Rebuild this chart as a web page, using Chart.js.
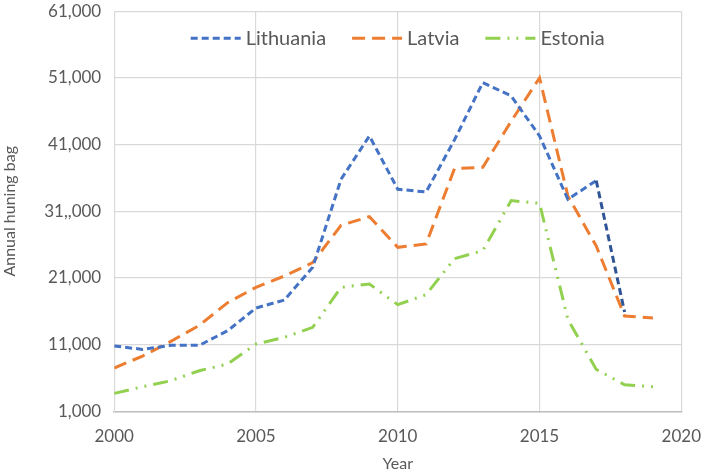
<!DOCTYPE html>
<html>
<head>
<meta charset="utf-8">
<script src="https://cdn.jsdelivr.net/npm/chart.js@4/dist/chart.umd.min.js"></script>
<style>
  html, body { margin: 0; padding: 0; background: #fff; overflow: hidden; }
  #frame { width: 709px; height: 475px; overflow: hidden; position: relative; }
  #wrap { position: absolute; left: 0; top: -12px; width: 716px; height: 487px; }
</style>
</head>
<body>
<div id="frame"><div id="wrap"><canvas id="myChart"></canvas></div></div>
<script>
// data
const years = [2000, 2001, 2002, 2003, 2004, 2005, 2006, 2007, 2008, 2009,
               2010, 2011, 2012, 2013, 2014, 2015, 2016, 2017, 2018, 2019];
const lithuania = [10800, 10300, 10900, 10900, 13100, 16500, 17700, 22600, 35800, 42300,
                   34300, 33900, 41700, 50300, 48300, 42300, 32800, 35600, 15900, null];
const latvia = [7500, 9300, 11500, 13900, 17300, 19600, 21300, 23300, 28900, 30200,
                25600, 26100, 37400, 37600, 44500, 51000, 33300, 25800, 15300, 15000];
const estonia = [3700, 4700, 5600, 7100, 8100, 11100, 12100, 13600, 19600, 20100,
                 17000, 18500, 23900, 25100, 32600, 32200, 14800, 7300, 5000, 4700];
const yTickLabels = ['1,000', '11,000', '21,000', '31,,000', '41,000', '51,000', '61,000'];

const toPoints = arr => years.map((y, i) => ({ x: y, y: arr[i] }));
const fontFam = "Lato, 'Open Sans', sans-serif";
const textColor = '#595959';

// legend drawn inside the plot, near the top, like the original
const insideLegend = {
  id: 'insideLegend',
  afterDatasetsDraw(chart) {
    const c = chart.ctx;
    const area = chart.chartArea;
    const sample = 50, gapText = 5, gapItem = 26;
    const y = area.top + 27;
    c.save();
    c.font = '20px ' + fontFam;
    const items = chart.data.datasets.map(ds => ({ ds, w: c.measureText(ds.label).width }));
    const total = items.reduce((s, it) => s + sample + gapText + it.w, 0) + gapItem * (items.length - 1);
    let x = (area.left + area.right) / 2 - total / 2;
    items.forEach(it => {
      c.beginPath();
      c.setLineDash(it.ds.borderDash || []);
      c.lineWidth = it.ds.borderWidth;
      c.strokeStyle = it.ds.borderColor;
      c.moveTo(x, y);
      c.lineTo(x + sample, y);
      c.stroke();
      c.setLineDash([]);
      c.fillStyle = textColor;
      c.textBaseline = 'middle';
      c.fillText(it.ds.label, x + sample + gapText, y);
      x += sample + gapText + it.w + gapItem;
    });
    c.restore();
  }
};

const ctx = document.getElementById('myChart').getContext('2d');
new Chart(ctx, {
  type: 'line',
  data: {
    datasets: [
      {
        label: 'Lithuania',
        data: toPoints(lithuania),
        borderColor: '#4472c4',
        backgroundColor: '#4472c4',
        borderWidth: 3,
        borderDash: [7, 4],
        pointRadius: 0,
        tension: 0,
        segment: {
          // last segment looks darker in the reference
          borderColor: c => c.p0DataIndex === 17 ? '#2f5597' : undefined
        }
      },
      {
        label: 'Latvia',
        data: toPoints(latvia),
        borderColor: '#ed7d31',
        backgroundColor: '#ed7d31',
        borderWidth: 3,
        borderDash: [13, 7],
        pointRadius: 0,
        tension: 0
      },
      {
        label: 'Estonia',
        data: toPoints(estonia),
        borderColor: '#92d050',
        backgroundColor: '#92d050',
        borderWidth: 3,
        borderDash: [15, 7, 2, 7, 2, 7],
        pointRadius: 0,
        tension: 0
      }
    ]
  },
  plugins: [insideLegend],
  options: {
    responsive: true,
    maintainAspectRatio: false,
    animation: false,
    layout: { padding: { top: 0, right: 22, left: 0, bottom: 2 } },
    plugins: {
      legend: { display: false },
      tooltip: { enabled: false }
    },
    scales: {
      x: {
        type: 'linear',
        min: 2000,
        max: 2020,
        border: { color: '#bfbfbf', width: 1.5 },
        grid: { color: '#d9d9d9', lineWidth: 1.2, drawTicks: false },
        ticks: {
          stepSize: 5,
          padding: 15,
          color: textColor,
          font: { family: fontFam, size: 17 },
          callback: v => String(v)
        },
        title: {
          display: true,
          text: 'Year',
          color: textColor,
          padding: { top: -8, bottom: 0 },
          font: { family: fontFam, size: 16 }
        }
      },
      y: {
        min: 1000,
        max: 61000,
        border: { color: '#d9d9d9' },
        grid: { color: '#d9d9d9', lineWidth: 1.2, drawTicks: false },
        ticks: {
          stepSize: 10000,
          padding: 13,
          color: textColor,
          font: { family: fontFam, size: 17 },
          callback: (v) => yTickLabels[Math.round((v - 1000) / 10000)]
        },
        title: {
          display: true,
          text: 'Annual huning bag',
          color: textColor,
          padding: { top: 0, bottom: 12 },
          font: { family: fontFam, size: 16 }
        }
      }
    }
  }
});
</script>
</body>
</html>
